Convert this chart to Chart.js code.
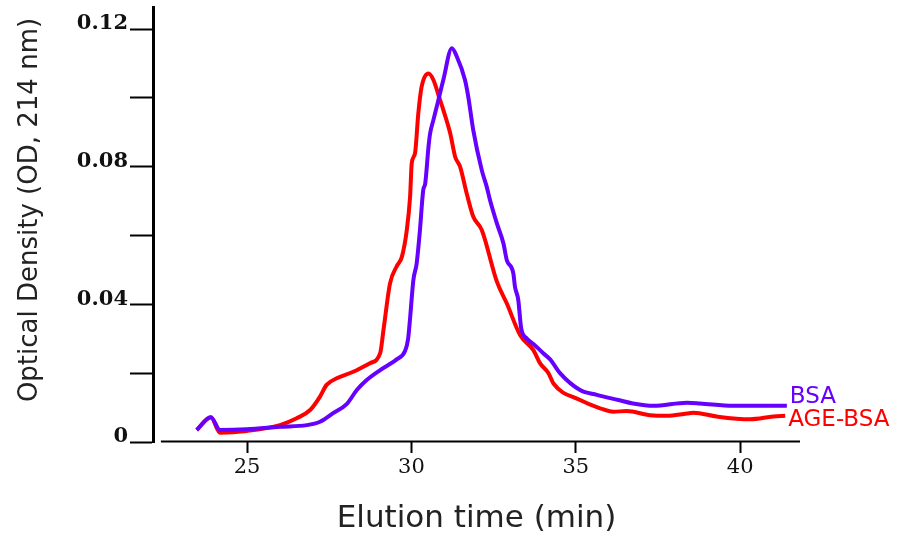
<!DOCTYPE html>
<html>
<head>
<meta charset="utf-8">
<script src="https://cdn.jsdelivr.net/npm/chart.js@4/dist/chart.umd.min.js"></script>
<style>
  html, body { margin: 0; padding: 0; background: #ffffff; }
  #wrap { width: 907px; height: 538px; }
</style>
</head>
<body>
<div id="wrap"><canvas id="c" width="907" height="538"></canvas></div>
<script>
// ---- Data ----
const bsaTime = [23.47, 23.90, 24.18, 24.99, 26.00, 26.82, 27.22, 27.62, 28.03, 28.34, 28.64, 29.05, 29.55, 29.81, 29.90, 29.96, 30.06, 30.16, 30.26, 30.36, 30.42, 30.52, 30.57, 30.67, 30.77, 30.97, 31.23, 31.38, 31.63, 31.73, 31.88, 32.14, 32.29, 32.39, 32.60, 32.80, 32.90, 33.10, 33.15, 33.25, 33.34, 33.51, 33.71, 34.01, 34.22, 34.52, 35.13, 35.64, 36.30, 36.74, 37.36, 38.38, 38.78, 39.79, 41.42];
const bsaOD   = [0.0035, 0.0072, 0.0035, 0.0037, 0.0044, 0.0049, 0.0059, 0.0084, 0.0110, 0.0151, 0.0180, 0.0209, 0.0240, 0.0265, 0.0300, 0.0360, 0.0471, 0.0519, 0.0616, 0.0732, 0.0751, 0.0858, 0.0897, 0.0936, 0.0974, 0.1052, 0.1144, 0.1120, 0.1052, 0.1003, 0.0907, 0.0790, 0.0742, 0.0703, 0.0635, 0.0577, 0.0529, 0.0490, 0.0451, 0.0413, 0.0330, 0.0301, 0.0285, 0.0258, 0.0240, 0.0200, 0.0151, 0.0137, 0.0122, 0.0112, 0.0105, 0.0114, 0.0112, 0.0105, 0.0105];

const ageTime = [23.47, 23.90, 24.18, 24.99, 26.00, 26.51, 26.92, 27.22, 27.42, 27.73, 28.23, 28.74, 29.05, 29.15, 29.35, 29.55, 29.71, 29.86, 29.96, 30.01, 30.11, 30.21, 30.31, 30.52, 30.67, 30.87, 30.97, 31.18, 31.33, 31.48, 31.68, 31.88, 32.14, 32.60, 32.90, 33.31, 33.71, 33.91, 34.17, 34.32, 35.13, 35.74, 36.14, 36.55, 37.26, 37.77, 38.38, 38.58, 39.29, 40.30, 41.01, 41.37];
const ageOD   = [0.0035, 0.0072, 0.0027, 0.0032, 0.0049, 0.0069, 0.0093, 0.0132, 0.0166, 0.0185, 0.0204, 0.0229, 0.0258, 0.0325, 0.0461, 0.0510, 0.0538, 0.0616, 0.0713, 0.0810, 0.0839, 0.0955, 0.1032, 0.1071, 0.1052, 0.0994, 0.0965, 0.0897, 0.0829, 0.0800, 0.0723, 0.0655, 0.0616, 0.0466, 0.0403, 0.0310, 0.0267, 0.0229, 0.0200, 0.0170, 0.0122, 0.0098, 0.0088, 0.0090, 0.0078, 0.0076, 0.0083, 0.0085, 0.0074, 0.0066, 0.0074, 0.0076];

const seriesNames = ['BSA', 'AGE-BSA'];
const yLabeledValues = [0, 0.04, 0.08, 0.12];
const yTickLabels = ['0', '0.04', '0.08', '0.12'];
const xTitle = 'Elution time (min)';
const yTitle = 'Optical Density (OD, 214 nm)';

// ---- Styling / layout ----
const BSA_COLOR = '#6600ff';
const AGE_COLOR = '#ff0000';
const X_MIN = 22.14, X_MAX = 41.82, X_AXIS_START = 22.38;
const Y_MIN = 0, Y_MAX = 0.1264;

const toPoints = (xs, ys) => xs.map((x, i) => ({ x: x, y: ys[i] }));

const extras = {
  id: 'extras',
  afterDraw(chart) {
    const ctx = chart.ctx;
    const xs = chart.scales.x, ys = chart.scales.y;
    // x axis line (starts a little right of the y axis, as in the reference)
    ctx.save();
    ctx.strokeStyle = '#000';
    ctx.lineWidth = 2;
    ctx.beginPath();
    const yy = xs.top - 0.5;
    ctx.moveTo(xs.getPixelForValue(X_AXIS_START), yy);
    ctx.lineTo(xs.right, yy);
    ctx.stroke();
    ctx.restore();
    // y axis title (rotated)
    ctx.save();
    ctx.translate(30, 210);
    ctx.rotate(-Math.PI / 2);
    ctx.font = '26px "DejaVu Sans"';
    ctx.fillStyle = '#222';
    ctx.textAlign = 'center';
    ctx.textBaseline = 'middle';
    ctx.fillText(yTitle, 0, 0);
    ctx.restore();
    // series end labels
    chart.data.datasets.forEach((ds, i) => {
      const meta = chart.getDatasetMeta(i);
      const last = meta.data[meta.data.length - 1];
      ctx.save();
      ctx.font = '23px "DejaVu Sans"';
      ctx.fillStyle = ds.borderColor;
      ctx.textAlign = 'left';
      ctx.textBaseline = 'middle';
      ctx.fillText(ds.label, last.x + 3, ys.getPixelForValue(ds.endLabelOD));
      ctx.restore();
    });
  }
};

new Chart(document.getElementById('c'), {
  type: 'line',
  data: {
    datasets: [
      { label: seriesNames[0], data: toPoints(bsaTime, bsaOD), borderColor: BSA_COLOR, backgroundColor: BSA_COLOR,
        borderWidth: 4, pointRadius: 0, cubicInterpolationMode: 'monotone', fill: false, endLabelOD: 0.0131 },
      { label: seriesNames[1], data: toPoints(ageTime, ageOD), borderColor: AGE_COLOR, backgroundColor: AGE_COLOR,
        borderWidth: 4, pointRadius: 0, cubicInterpolationMode: 'monotone', fill: false, endLabelOD: 0.0064 }
    ]
  },
  options: {
    responsive: false,
    animation: false,
    layout: { padding: { left: 0, right: 107, top: 7, bottom: 0 } },
    plugins: { legend: { display: false }, tooltip: { enabled: false } },
    scales: {
      x: {
        type: 'linear', min: X_MIN, max: X_MAX,
        afterFit(s) { s.height = 96; s.paddingLeft = 0; s.paddingRight = 0; },
        border: { display: false },
        grid: { drawOnChartArea: false, drawTicks: true, tickLength: 11, tickWidth: 2, color: '#000' },
        ticks: { stepSize: 5, includeBounds: false, color: '#111', maxRotation: 0, padding: 2,
                 font: { family: 'DejaVu Serif', size: 21 } },
        title: { display: true, text: xTitle, color: '#222', padding: { top: 0, bottom: 0 },
                 font: { family: 'DejaVu Sans', size: 31 } }
      },
      y: {
        min: Y_MIN, max: Y_MAX,
        afterFit(s) { s.width = 153; s.paddingTop = 0; s.paddingBottom = 0; },
        border: { display: true, color: '#000', width: 3 },
        grid: { drawOnChartArea: false, drawTicks: true, tickLength: 23, tickWidth: 2, color: '#000' },
        ticks: {
          stepSize: 0.02, includeBounds: false, color: '#111', padding: 2, labelOffset: -5,
          font: { family: 'DejaVu Serif', size: 21, weight: 'bold' },
          callback: (v) => {
            const k = yLabeledValues.findIndex(l => Math.abs(l - v) < 1e-6);
            return k < 0 ? '' : yTickLabels[k];
          }
        },
        title: { display: false }
      }
    }
  },
  plugins: [extras]
});
</script>
</body>
</html>
